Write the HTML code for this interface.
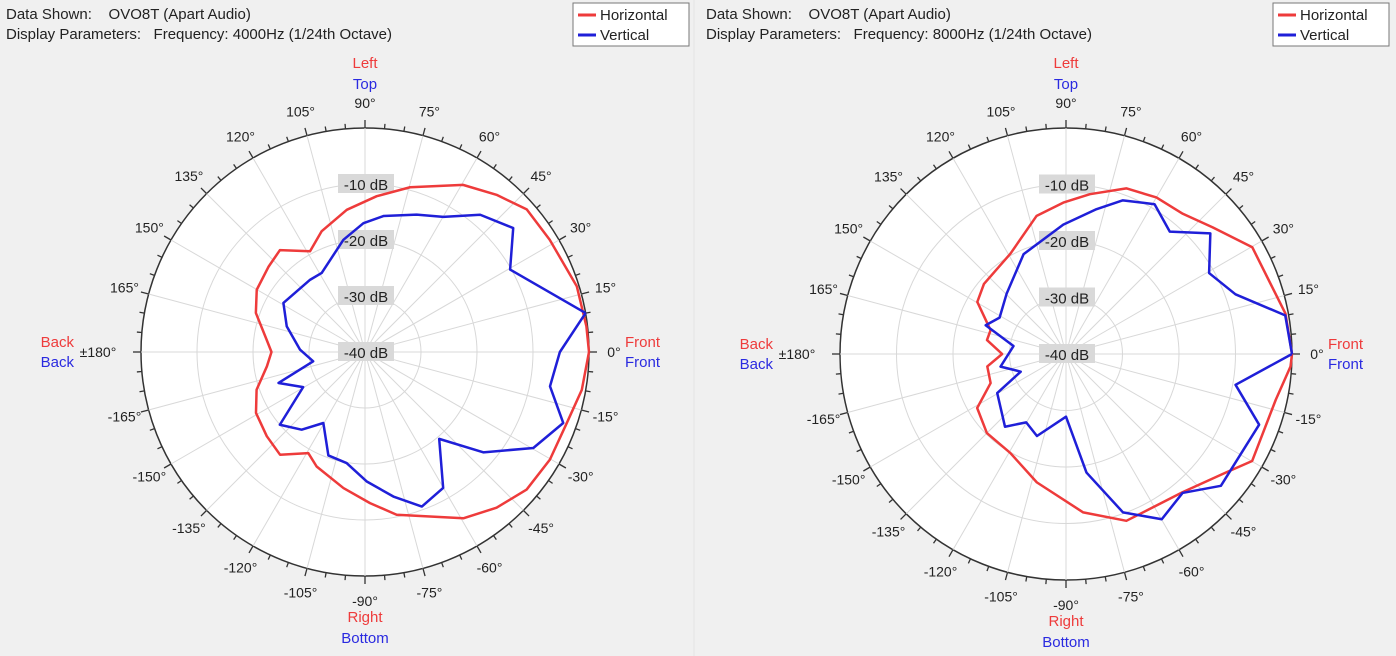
<!DOCTYPE html>
<html><head><meta charset="utf-8">
<style>
html,body{margin:0;padding:0;background:#f0f0f0;}
body{width:1396px;height:656px;overflow:hidden;position:relative;font-family:"Liberation Sans Narrow","Liberation Sans",sans-serif;}
svg{position:absolute;left:0;top:0;}
text{font-family:"Liberation Sans Narrow","Liberation Sans",sans-serif;white-space:pre;}
</style></head>
<body>
<svg id="chart" width="1396" height="656" viewBox="0 0 1396 656"></svg>
<script>
// Left chart data (4000Hz)
const h4Angles = [0,6.6,17.2,31.3,41.4,50.1,59.6,74.7,85.7,97.3,109.8,118.6,129.9,138.4,150.1,160.3,172.9,180,-171.7,-160.8,-150.8,-139.4,-129.6,-119.3,-112.9,-99,-88.1,-79,-59.4,-49.8,-40.4,-30.2,-19.4,-9.9,0];
const h4Db = [0,-0.2,-0.4,-1.4,-1.5,-3.4,-5.4,-9.5,-12.1,-14.4,-17.1,-19.5,-16.3,-17,-17.7,-19.3,-22.3,-23.3,-22.3,-19.5,-17.7,-16.9,-16.2,-19.3,-17.8,-15.4,-13,-10.4,-5.5,-3.6,-2.1,-1.8,-1.8,-0.7,0];
const v4Angles = [10,29.6,39.9,50,59.9,69.4,82.3,90.7,100.9,118.7,127.2,149,161.9,178,-169.8,-160.3,-150.4,-139.5,-129.2,-120.4,-109.5,-99.4,-89.3,-78.9,-69.8,-60.1,-49.5,-40.3,-29.7,-19.7,-10.5,0,10];
const v4Db = [0,-10.2,-5.5,-8,-12.1,-13.8,-15.5,-17,-19.6,-23.9,-23.8,-23,-25.3,-28.4,-30.6,-23.6,-27.3,-20,-22.1,-25.3,-20.4,-19.9,-16.9,-13.7,-10.6,-12,-19.6,-12.3,-5.4,-2.4,-6.4,-5.2,0];
// Right chart data (8000Hz)
const h8Angles = [0,10.4,29.8,40.8,50.2,60,70,81.5,91,102,119,139.5,149.6,162.5,170,180,-171,-158.9,-148.7,-135,-119.4,-102.8,-83.8,-70.1,-49.9,-36.6,-29.9,-12.3,-3.2,0];
const h8Db = [0,-0.5,-2,-5.7,-7.7,-8,-8.8,-11.4,-13.2,-15,-19.7,-20.9,-21.8,-26,-25.8,-28.7,-25.9,-25.7,-21.6,-20.2,-19.9,-16.7,-11.8,-8.6,-8,-4.8,-2,-2,-0.2,0];
const v8Angles = [0,10,19.4,29.5,39.9,49.7,59.4,69.7,78.1,91.2,113,134.4,151.3,160.3,171.4,-169.1,-158.7,-150.4,-130,-120.2,-109.5,-90,-80.2,-70.2,-59.9,-50,-40.4,-20.1,-10.3,0];
const v8Db = [0,-0.6,-8.2,-10.9,-6.7,-11.6,-9.2,-11,-13.8,-17.1,-20.8,-25,-26.6,-24.9,-30.6,-28.2,-31.4,-26,-23.2,-26,-24.6,-28.9,-18.7,-10.2,-6.2,-7.9,-4,-3.6,-9.5,0];
const ringDb = [-10,-20,-30,-40];
const tickLabels = [0,15,30,45,60,75,90,105,120,135,150,165,180,-165,-150,-135,-120,-105,-90,-75,-60,-45,-30,-15];

const NS = "http://www.w3.org/2000/svg";
const svg = document.getElementById('chart');
function el(tag, attrs, parent){
  const e = document.createElementNS(NS, tag);
  for (const k in attrs) e.setAttribute(k, attrs[k]);
  (parent||svg).appendChild(e);
  return e;
}
function txt(x,y,s,fill,size,anchor,parent){
  const t = el('text',{x:x,y:y,fill:fill,'font-size':size,'text-anchor':anchor||'start'},parent);
  t.textContent = s;
  return t;
}

function drawChart(ox, cx, cy, R, freq, hA, hD, vA, vD, suffix){
  const g = el('g',{});
  
  
  const rScale = d => Math.max(0, (d + 40) / 40 * R);
  const pt = (a, d) => { const r = rScale(d), t = a * Math.PI / 180; return [cx + r * Math.cos(t), cy - r * Math.sin(t)]; };

  const h1 = txt(ox + 6, 19, 'Data Shown:    OVO8T (Apart Audio)', '#222', 15, 'start', g);
  
  
  const h2 = txt(ox + 6, 39, 'Display Parameters:   Frequency: ' + freq + ' (1/24th Octave)', '#222', 15, 'start', g);
  
  

  const lg = el('g', {}, g);
  
  
  el('rect', {x: ox + 573, y: 3, width: 116, height: 43, fill: '#fff', stroke: '#777', 'stroke-width': 1}, lg);
  el('line', {x1: ox + 578, y1: 15, x2: ox + 596, y2: 15, stroke: '#ee3b3b', 'stroke-width': 3}, lg);
  txt(ox + 600, 20, 'Horizontal', '#222', 15, 'start', lg);
  el('line', {x1: ox + 578, y1: 35, x2: ox + 596, y2: 35, stroke: '#1f1fd8', 'stroke-width': 3}, lg);
  txt(ox + 600, 40, 'Vertical', '#222', 15, 'start', lg);

  el('circle', {cx: cx, cy: cy, r: R, fill: '#fff', stroke: '#333', 'stroke-width': 1.5}, g);
  for (let a = 0; a < 360; a += 15) {
    const t = a * Math.PI / 180;
    el('line', {x1: cx, y1: cy, x2: cx + R * Math.cos(t), y2: cy - R * Math.sin(t), stroke: '#d8d8d8', 'stroke-width': 1}, g);
  }
  ringDb.forEach(d => { if (rScale(d) > 0) el('circle', {cx: cx, cy: cy, r: rScale(d), fill: 'none', stroke: '#d8d8d8', 'stroke-width': 1}, g); });
  for (let a = 0; a < 360; a += 5) {
    const t = a * Math.PI / 180, L = a % 15 === 0 ? 8 : 5;
    el('line', {x1: cx + R * Math.cos(t), y1: cy - R * Math.sin(t), x2: cx + (R + L) * Math.cos(t), y2: cy - (R + L) * Math.sin(t), stroke: '#333', 'stroke-width': 1.3}, g);
  }
  tickLabels.forEach(a => {
    const t = a * Math.PI / 180, rr = R + (a === 180 ? 43 : 25);
    const s = (a === 180 ? '±180' : a) + '°';
    const tl = txt(cx + rr * Math.cos(t), cy - rr * Math.sin(t) + 5, s, '#222', 14, 'middle', g);
    
    
  });
  ringDb.forEach(d => {
    const y = cy - rScale(d);
    el('rect', {x: cx - 27, y: y - 10, width: 56, height: 19, fill: '#d9d9d9'}, g);
    const dl = txt(cx + 1, y + 6, d + ' dB', '#222', 15, 'middle', g);
    
    
  });
  const hp = el('polyline', {points: hA.map((a, i) => pt(a, hD[i]).join(',')).join(' '), fill: 'none', stroke: '#ee3b3b', 'stroke-width': 2.5, 'stroke-linejoin': 'round'}, g);
  
  
  const vp = el('polyline', {points: vA.map((a, i) => pt(a, vD[i]).join(',')).join(' '), fill: 'none', stroke: '#1f1fd8', 'stroke-width': 2.5, 'stroke-linejoin': 'round'}, g);
  
  

  txt(cx, cy - R - 60, 'Left', '#ee3b3b', 15, 'middle', g);
  txt(cx, cy - R - 39, 'Top', '#2a2ae0', 15, 'middle', g);
  txt(cx, cy + R + 46, 'Right', '#ee3b3b', 15, 'middle', g);
  txt(cx, cy + R + 67, 'Bottom', '#2a2ae0', 15, 'middle', g);
  txt(cx + R + 36, cy - 5, 'Front', '#ee3b3b', 15, 'start', g);
  txt(cx + R + 36, cy + 15, 'Front', '#2a2ae0', 15, 'start', g);
  txt(cx - R - 67, cy - 5, 'Back', '#ee3b3b', 15, 'end', g);
  txt(cx - R - 67, cy + 15, 'Back', '#2a2ae0', 15, 'end', g);
}

el('line', {x1: 694, y1: 0, x2: 694, y2: 656, stroke: '#e4e4e4', 'stroke-width': 1});
drawChart(0, 365, 352, 224, '4000Hz', h4Angles, h4Db, v4Angles, v4Db, '4000hz');
drawChart(700, 1066, 354, 226, '8000Hz', h8Angles, h8Db, v8Angles, v8Db, '8000hz');
</script>
</body></html>
